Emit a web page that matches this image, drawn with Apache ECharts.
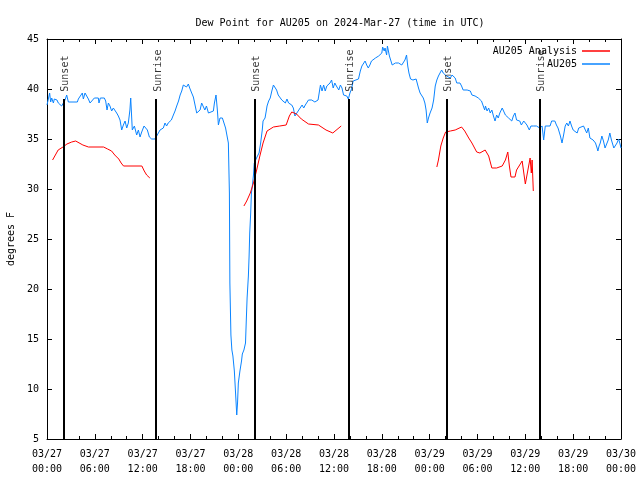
<!DOCTYPE html>
<html>
<head>
<meta charset="utf-8">
<script src="https://cdn.jsdelivr.net/npm/echarts@6/dist/echarts.min.js"></script>
<style>
html,body{margin:0;padding:0;background:#fff;}
#chart{width:640px;height:480px;}
</style>
</head>
<body>
<div id="chart"></div>
<script>
// hours since 2024-03-27 00:00 UTC, dew point (F)
var obsAU205 = [
[0.0,38.4],[0.33,39.6],[0.46,38.7],[0.59,39.1],[0.8,38.6],[0.92,39.0],[1.09,38.8],[1.25,38.9],[1.42,38.6],[1.63,38.5],[1.84,38.3],[2.05,38.1],[2.26,38.9],[2.47,39.4],[2.68,38.7],[3.81,38.7],[3.93,39.0],[4.18,39.3],[4.43,39.6],[4.56,39.0],[4.77,39.6],[4.98,39.4],[5.19,39.0],[5.4,38.6],[5.61,38.8],[5.94,39.1],[6.44,39.1],[6.52,38.6],[6.69,39.1],[7.19,39.1],[7.36,38.8],[7.53,37.9],[7.7,38.6],[7.9,38.3],[8.11,37.8],[8.32,38.1],[8.53,38.3],[8.74,37.6],[8.95,37.3],[9.16,36.9],[9.37,35.9],[9.58,36.4],[9.79,36.8],[10.0,36.1],[10.2,36.6],[10.4,37.9],[10.5,39.1],[10.7,35.9],[10.96,36.3],[11.25,35.4],[11.46,35.9],[11.67,35.2],[11.88,35.7],[12.17,36.3],[12.42,36.3],[12.59,35.9],[12.84,35.2],[13.13,35.0],[13.55,35.0],[13.76,35.3],[13.97,35.5],[14.18,35.9],[14.38,35.8],[14.59,36.1],[14.8,36.6],[15.0,36.3],[15.2,36.6],[15.6,36.9],[15.85,37.4],[16.06,37.8],[16.27,38.3],[16.5,38.8],[16.7,39.4],[16.9,39.8],[17.1,40.4],[17.3,40.5],[17.5,40.2],[17.73,40.5],[17.9,40.1],[18.15,39.6],[18.36,39.2],[18.57,39.1],[18.78,37.6],[18.99,37.8],[19.2,37.9],[19.4,38.6],[19.6,38.8],[19.8,37.9],[20.0,38.3],[20.25,37.6],[20.5,37.8],[20.87,37.8],[21.0,38.6],[21.2,39.4],[21.37,37.9],[21.5,36.4],[21.7,37.1],[22.0,37.1],[22.2,36.6],[22.4,36.1],[22.6,35.9],[22.75,34.6],[22.85,34.6],[22.88,29.6],[22.94,20.6],[23.07,15.4],[23.19,13.9],[23.32,13.3],[23.5,11.8],[23.7,8.9],[23.8,7.4],[23.9,8.6],[24.0,10.6],[24.2,11.8],[24.4,12.8],[24.5,13.5],[24.7,13.9],[24.9,14.6],[25.0,16.9],[25.1,19.1],[25.26,21.3],[25.35,23.3],[25.43,25.6],[25.55,27.6],[25.64,29.6],[25.77,30.4],[25.9,31.4],[26.0,32.6],[26.2,32.8],[26.4,33.3],[26.6,33.6],[26.7,33.6],[26.8,34.6],[27.0,35.9],[27.1,36.8],[27.35,37.1],[27.5,37.8],[27.6,38.3],[27.8,38.8],[28.0,39.1],[28.2,39.8],[28.4,40.4],[28.6,40.4],[28.8,39.9],[29.0,39.4],[29.2,39.3],[29.45,38.9],[29.6,39.1],[29.9,38.6],[30.1,39.0],[30.3,38.6],[30.5,38.8],[30.7,38.4],[30.9,38.1],[31.1,37.3],[31.3,37.4],[31.5,37.8],[31.7,37.9],[32.0,38.4],[32.2,38.1],[32.4,38.4],[32.6,38.6],[32.8,38.9],[33.0,39.0],[33.2,38.9],[33.4,39.0],[33.6,38.7],[33.8,38.6],[34.0,38.9],[34.3,40.4],[34.5,39.8],[34.7,40.4],[34.9,39.8],[35.1,40.3],[35.3,40.1],[35.5,40.6],[35.7,40.9],[35.9,40.1],[36.1,40.6],[36.3,40.3],[36.6,39.9],[36.8,40.4],[37.0,40.1],[37.2,39.4],[37.4,39.6],[37.6,39.3],[37.8,39.0],[38.0,39.6],[38.2,40.0],[38.4,40.8],[38.6,40.9],[39.07,41.0],[39.3,41.8],[39.5,42.3],[39.7,42.4],[39.9,42.8],[40.1,42.4],[40.3,42.1],[40.5,42.4],[40.7,42.8],[40.95,42.9],[41.2,43.1],[41.4,42.9],[41.6,43.3],[41.8,43.4],[42.0,43.6],[42.1,44.2],[42.3,43.8],[42.4,44.1],[42.6,43.4],[42.7,44.3],[42.95,43.3],[43.2,43.1],[43.3,42.4],[43.7,42.6],[43.9,42.4],[44.1,42.6],[44.3,42.8],[44.5,42.4],[44.7,42.6],[44.9,42.9],[45.1,43.4],[45.25,42.3],[45.4,41.6],[45.6,41.0],[45.9,40.9],[46.1,40.8],[46.3,41.0],[46.6,40.1],[46.8,39.6],[47.0,39.4],[47.2,39.1],[47.4,38.6],[47.55,37.9],[47.7,36.6],[47.85,37.1],[48.05,37.6],[48.3,38.1],[48.5,38.9],[48.7,40.3],[48.9,40.9],[49.1,41.3],[49.3,41.6],[49.5,41.9],[49.7,41.6],[49.9,41.8],[50.1,41.3],[50.35,41.4],[50.6,41.1],[50.8,41.4],[51.0,41.3],[51.2,41.1],[51.4,40.6],[51.6,40.4],[51.8,40.6],[52.0,40.3],[52.2,39.9],[52.4,40.1],[52.7,39.9],[52.9,40.0],[53.1,39.8],[53.3,39.4],[53.5,39.6],[53.7,39.3],[53.9,39.4],[54.1,39.1],[54.3,38.9],[54.5,38.8],[54.7,38.6],[54.9,37.9],[55.0,38.3],[55.2,37.8],[55.4,38.1],[55.6,37.6],[55.8,37.9],[56.0,37.3],[56.2,36.8],[56.4,37.4],[56.6,37.1],[56.8,37.6],[57.1,38.1],[57.3,37.9],[57.5,37.4],[57.7,37.6],[57.9,37.1],[58.1,36.9],[58.3,36.8],[58.5,37.3],[58.7,37.6],[58.9,36.9],[59.1,37.1],[59.3,36.8],[59.5,36.4],[59.8,36.8],[60.0,36.6],[60.2,36.4],[60.5,35.9],[60.7,36.3],[61.0,36.3],[61.4,36.3],[61.6,36.3],[61.8,36.1],[62.1,36.3],[62.3,34.9],[62.5,36.3],[62.7,36.3],[63.1,36.3],[63.3,36.8],[63.7,36.8],[63.9,36.4],[64.1,36.1],[64.4,35.3],[64.6,34.6],[64.8,35.4],[65.0,36.3],[65.2,36.6],[65.4,36.3],[65.6,36.8],[65.8,36.3],[66.0,35.9],[66.2,35.9],[66.5,35.6],[66.7,36.1],[66.9,36.3],[67.3,36.3],[67.5,36.1],[67.7,35.6],[67.9,36.1],[68.1,35.1],[68.3,35.0],[68.5,34.9],[68.8,34.6],[69.0,34.1],[69.1,33.8],[69.25,34.3],[69.4,34.6],[69.6,35.3],[69.8,34.8],[70.0,34.1],[70.2,34.3],[70.4,34.9],[70.6,35.6],[70.8,34.9],[71.1,34.1],[71.3,34.1],[71.5,34.6],[71.7,35.0],[71.85,34.6],[72.0,34.1]
];
var analysisDay1 = [[0.7,32.9],[1.4,33.9],[2.0,34.2],[2.5,34.5],[3.1,34.7],[3.6,34.8],[4.5,34.4],[5.2,34.2],[7.1,34.2],[7.6,34.0],[8.1,33.8],[8.5,33.4],[9.0,33.0],[9.3,32.6],[9.6,32.3],[11.9,32.3],[12.2,31.8],[12.5,31.4],[12.9,31.1]];
var analysisDay2 = [[24.7,28.3],[25.05,28.8],[25.5,29.6],[25.9,30.6],[26.3,31.9],[26.7,33.3],[27.1,34.6],[27.6,35.8],[27.8,36.0],[28.4,36.2],[29.2,36.3],[30.0,36.4],[30.4,37.3],[30.7,37.7],[31.3,37.5],[31.9,37.0],[32.8,36.5],[34.05,36.4],[35.0,35.9],[35.85,35.6],[36.9,36.3]];
var analysisDay3 = [[48.9,32.2],[49.1,32.9],[49.4,34.3],[49.7,35.1],[50.0,35.7],[50.6,35.8],[51.2,35.9],[52.0,36.2],[52.4,35.8],[52.9,35.1],[53.3,34.6],[53.9,33.7],[54.3,33.6],[54.96,33.9],[55.4,33.3],[55.8,32.1],[56.4,32.1],[57.1,32.3],[57.5,32.9],[57.8,33.7],[58.0,32.3],[58.2,31.2],[58.7,31.2],[58.9,31.9],[59.6,32.8],[59.8,32.9],[60.0,30.5],[60.3,31.8],[60.6,33.1],[60.75,31.6],[60.85,32.9],[61.0,29.8]];
var sunTimes = [2.05, 13.7, 26.0, 37.8, 50.1, 61.8];
var sunLabels = ['Sunset', 'Sunrise', 'Sunset', 'Sunrise', 'Sunset', 'Sunrise'];
var startDay = 27;

var FONT = 'DejaVu Sans Mono';
var analysisData = analysisDay1.concat([[18, '-']], analysisDay2, [[42, '-']], analysisDay3);
function pad(n){ return (n < 10 ? '0' : '') + n; }
function fmtX(v){
  var d = startDay + Math.floor(v / 24 + 1e-9);
  var h = Math.round(v - (d - startDay) * 24);
  return '03/' + pad(d) + '\n' + pad(h) + ':00';
}

var chart = echarts.init(document.getElementById('chart'), null, {renderer: 'canvas'});
var xCommon = {
  type: 'value', min: 0, max: 72, interval: 6,
  axisLine: {show: true, onZero: false, lineStyle: {color: '#000', width: 1}},
  axisTick: {show: true, inside: true, length: 5, lineStyle: {color: '#000'}},
  minorTick: {show: true, splitNumber: 3, length: 3, lineStyle: {color: '#000'}},
  splitLine: {show: false}
};
var yCommon = {
  type: 'value', min: 5, max: 45, interval: 5,
  axisLine: {show: true, onZero: false, lineStyle: {color: '#000', width: 1}},
  axisTick: {show: true, inside: true, length: 5, lineStyle: {color: '#000'}},
  splitLine: {show: false}
};
chart.setOption({
  animation: false,
  backgroundColor: '#fff',
  textStyle: {fontFamily: FONT},
  title: {
    text: 'Dew Point for AU205 on 2024-Mar-27 (time in UTC)',
    left: 335, top: 13, textAlign: 'center',
    textStyle: {fontFamily: FONT, fontSize: 10, fontWeight: 'normal', color: '#000'}
  },
  legend: {
    data: ['AU205 Analysis', 'AU205'],
    orient: 'vertical', align: 'right', right: 30, top: 46, padding: 0,
    icon: 'rect', itemWidth: 28, itemHeight: 1.5, itemGap: 3,
    textStyle: {fontFamily: FONT, fontSize: 10, color: '#000'}
  },
  grid: {left: 47, right: 19, top: 39, bottom: 41, outerBoundsMode: 'none', containLabel: false},
  xAxis: [
    Object.assign({}, xCommon, {
      position: 'bottom',
      axisLabel: {show: true, formatter: fmtX, fontFamily: FONT, fontSize: 10, color: '#000', margin: 8, lineHeight: 15}
    }),
    Object.assign({}, xCommon, {position: 'top', axisLabel: {show: false}})
  ],
  yAxis: [
    Object.assign({}, yCommon, {
      position: 'left',
      name: 'degrees F', nameLocation: 'middle', nameGap: 31, nameRotate: 90,
      nameTextStyle: {fontFamily: FONT, fontSize: 10, color: '#000'},
      axisLabel: {show: true, fontFamily: FONT, fontSize: 10, color: '#000', margin: 8}
    }),
    Object.assign({}, yCommon, {position: 'right', axisLabel: {show: false}})
  ],
  series: [
    {
      name: 'AU205 Analysis', type: 'line', data: analysisData,
      showSymbol: false, symbol: 'none', connectNulls: false,
      lineStyle: {color: '#ff0000', width: 1}, itemStyle: {color: '#ff0000'},
      z: 3
    },
    {
      name: 'AU205', type: 'line', data: obsAU205,
      showSymbol: false, symbol: 'none',
      lineStyle: {color: '#0a84ff', width: 1}, itemStyle: {color: '#0a84ff'},
      z: 2
    },
    {
      name: 'sun', type: 'scatter', symbolSize: 0, silent: true,
      data: sunTimes.map(function(t, i){ return {value: [t, 39.73], label: {formatter: sunLabels[i]}}; }),
      label: {show: true, position: 'inside', rotate: 90, align: 'left', verticalAlign: 'middle',
              offset: [0, 2], fontFamily: FONT, fontSize: 10, color: '#000'},
      markLine: {
        silent: true, symbol: 'none',
        label: {show: false},
        lineStyle: {color: '#000', width: 2, type: 'solid'},
        data: sunTimes.map(function(t){ return [{coord: [t, 39.0]}, {coord: [t, 5]}]; })
      },
      z: 4
    }
  ]
});
</script>
</body>
</html>
